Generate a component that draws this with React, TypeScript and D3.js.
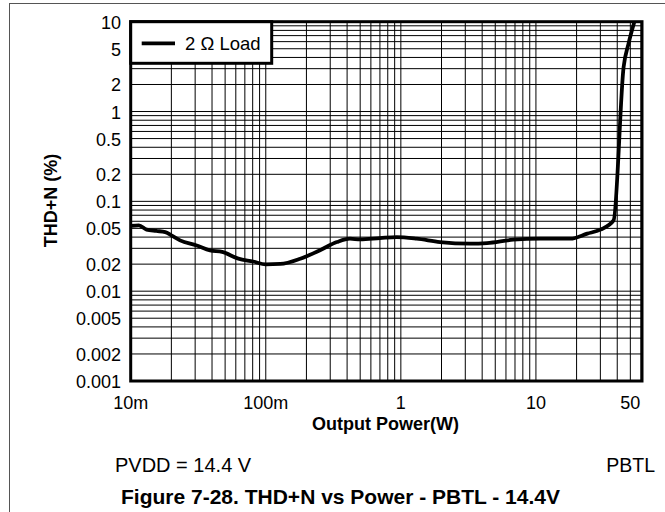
import React from "react";
import * as d3 from "d3";

const W = 665;
const H = 512;

// Data (2 Ω Load)
const powerW = [0.01, 0.0115, 0.0131, 0.0155, 0.018, 0.02, 0.0232, 0.0308, 0.0387, 0.0475, 0.0627, 0.0805, 0.1, 0.128, 0.18, 0.25, 0.336, 0.42, 0.5, 0.7, 0.93, 1.31, 1.95, 3.26, 4.34, 6.8, 10.8, 18, 24, 30, 37.6, 44.6, 48.5, 53.5];
const thdPct = [0.0533, 0.054, 0.0484, 0.0468, 0.0455, 0.0418, 0.0368, 0.0323, 0.0284, 0.0274, 0.023, 0.0214, 0.0199, 0.0201, 0.023, 0.0284, 0.0352, 0.0384, 0.0377, 0.039, 0.04, 0.0384, 0.0352, 0.0338, 0.0343, 0.0374, 0.0384, 0.0384, 0.0437, 0.0484, 0.0614, 3.14, 5.71, 9.9];

const xTickValues = [0.01, 0.1, 1, 10, 50];
const xTickLabels = ["10m", "100m", "1", "10", "50"];
const yTickValues = [10, 5, 2, 1, 0.5, 0.2, 0.1, 0.05, 0.02, 0.01, 0.005, 0.002, 0.001];
const yTickLabels = ["10", "5", "2", "1", "0.5", "0.2", "0.1", "0.05", "0.02", "0.01", "0.005", "0.002", "0.001"];

const seriesName = "2 Ω Load";
const xTitle = "Output Power(W)";
const yTitle = "THD+N (%)";
const noteLeft = "PVDD = 14.4 V";
const noteRight = "PBTL";
const caption = "Figure 7-28. THD+N vs Power - PBTL - 14.4V";

const FONT = "'Liberation Sans', Arial, Helvetica, sans-serif";

export default function App() {
  const x = d3.scaleLog().domain([0.01, 61]).range([130.7, 642]);
  const y = d3.scaleLog().domain([0.001, 10]).range([381, 21.7]);

  const [x0, x1] = x.range();
  const [y0, y1] = y.range();

  // minor grid values
  const xGrid: number[] = [];
  for (let dec = 0.01; dec <= 10; dec *= 10) {
    for (let k = 1; k <= 9; k++) {
      const v = +(dec * k).toPrecision(6);
      if (v > 0.01 && v < 61) xGrid.push(v);
    }
  }
  const yGrid: number[] = [];
  for (let dec = 0.001; dec <= 1; dec *= 10) {
    for (let k = 1; k <= 10; k++) {
      const v = +(dec * k).toPrecision(6);
      if (v > 0.001 && v < 10) yGrid.push(v);
    }
  }
  const yGridU = Array.from(new Set(yGrid));

  const data = powerW.map((p, i) => [p, thdPct[i]] as [number, number]);
  const line = d3
    .line<[number, number]>()
    .x((d) => x(d[0]))
    .y((d) => y(d[1]))
    .curve(d3.curveMonotoneX);

  return (
    <svg
      width={W}
      height={H}
      style={{ position: "absolute", left: 0, top: 0, background: "#fff" }}
      fontFamily={FONT}
    >
      <rect x={0} y={0} width={W} height={H} fill="#fff" />
      {/* outer frame */}
      <rect x={9.5} y={3.5} width={W + 20} height={H + 20} fill="none" stroke="#555" strokeWidth={1} />

      <defs>
        <clipPath id="plotClip">
          <rect x={x0} y={y1} width={x1 - x0} height={y0 - y1} />
        </clipPath>
      </defs>

      {/* grid */}
      <g stroke="#000" strokeWidth={1}>
        {xGrid.map((v) => (
          <line key={"xg" + v} x1={x(v)} x2={x(v)} y1={y1} y2={y0} />
        ))}
        {yGridU.map((v) => (
          <line key={"yg" + v} x1={x0} x2={x1} y1={y(v)} y2={y(v)} />
        ))}
      </g>

      {/* curve */}
      <path d={line(data) || ""} fill="none" stroke="#000" strokeWidth={3.8} strokeLinejoin="round" clipPath="url(#plotClip)" />

      {/* plot border */}
      <rect x={x0} y={y1} width={x1 - x0} height={y0 - y1} fill="none" stroke="#000" strokeWidth={3} />

      {/* legend */}
      <rect x={x0} y={y1} width={141} height={41.6} fill="#fff" stroke="#000" strokeWidth={3} />
      <line x1={141.7} x2={175} y1={43.3} y2={43.3} stroke="#000" strokeWidth={3.8} />
      <text x={185} y={50} fontSize={18.5} fill="#000">
        {seriesName}
      </text>

      {/* y tick labels */}
      {yTickValues.map((v, i) => (
        <text key={"yt" + i} x={121} y={y(v) + 7} fontSize={18} textAnchor="end" fill="#000">
          {yTickLabels[i]}
        </text>
      ))}
      {/* x tick labels */}
      {xTickValues.map((v, i) => (
        <text key={"xt" + i} x={x(v)} y={409} fontSize={18} textAnchor="middle" fill="#000">
          {xTickLabels[i]}
        </text>
      ))}

      {/* axis titles */}
      <text x={385.5} y={430} fontSize={18} fontWeight="bold" textAnchor="middle" fill="#000">
        {xTitle}
      </text>
      <text
        transform="translate(56.5,200.5) rotate(-90)"
        fontSize={18}
        fontWeight="bold"
        textAnchor="middle"
        fill="#000"
      >
        {yTitle}
      </text>

      {/* notes */}
      <text x={115} y={472} fontSize={20} fill="#000">
        {noteLeft}
      </text>
      <text x={655} y={472} fontSize={19.5} textAnchor="end" fill="#000">
        {noteRight}
      </text>
      <text x={340.5} y={504} fontSize={21} fontWeight="bold" textAnchor="middle" fill="#000">
        {caption}
      </text>
    </svg>
  );
}
